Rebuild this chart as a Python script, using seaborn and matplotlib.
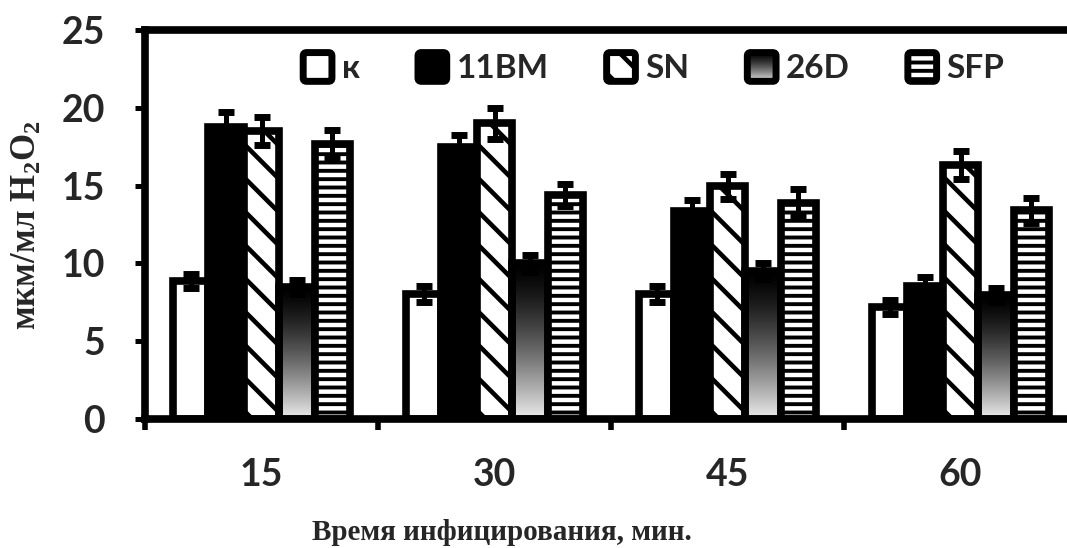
import numpy as np
import pandas as pd
import matplotlib
matplotlib.use("Agg")
import matplotlib.pyplot as plt
import seaborn as sns
from matplotlib.legend_handler import HandlerBase
from matplotlib.patches import FancyBboxPatch, Rectangle

# ---- data ----
times = ["15", "30", "45", "60"]
strains = ["к", "11BM", "SN", "26D", "SFP"]
k_vals = [8.9, 8.05, 8.05, 7.2]
bm11_vals = [18.75, 17.45, 13.35, 8.55]
sn_vals = [18.5, 19.0, 14.95, 16.35]
d26_vals = [8.5, 10.0, 9.5, 7.95]
sfp_vals = [17.65, 14.4, 13.9, 13.4]
k_err = [0.45, 0.5, 0.5, 0.45]
bm11_err = [1.0, 0.8, 0.7, 0.55]
sn_err = [0.9, 1.0, 0.8, 0.9]
d26_err = [0.45, 0.55, 0.5, 0.45]
sfp_err = [0.9, 0.7, 0.85, 0.8]

values = [k_vals, bm11_vals, sn_vals, d26_vals, sfp_vals]
errors = [k_err, bm11_err, sn_err, d26_err, sfp_err]

df = pd.DataFrame({
    "time": np.tile(times, len(strains)),
    "strain": np.repeat(strains, len(times)),
    "value": np.concatenate(values),
})

# ---- style ----
sns.set_theme(style="white")
plt.rcParams["font.family"] = ["Lato", "DejaVu Sans"]
plt.rcParams["font.weight"] = "bold"
plt.rcParams["mathtext.fontset"] = "custom"
plt.rcParams["mathtext.rm"] = "Liberation Serif"
plt.rcParams["mathtext.it"] = "Liberation Serif:italic"
plt.rcParams["mathtext.bf"] = "Liberation Serif:bold"
plt.rcParams["hatch.linewidth"] = 3.3
plt.rcParams["hatch.color"] = "black"

EDGE_LW = 5.5
DIAG_LW = 3.3
HORIZ_LW = 2.8
fig = plt.figure(figsize=(10.67, 5.48), dpi=100)
ax = fig.add_axes([145 / 1067, (548 - 419) / 548, 932 / 1067, 389 / 548])

faces = ["white", "black", "white", "none", "white"]
hatches = [None, None, "\\", None, "--"]
palette = dict(zip(strains, ["white", "black", "white", "white", "white"]))

sns.barplot(data=df, x="time", y="value", hue="strain", order=times,
            hue_order=strains, palette=palette, width=0.76, errorbar=None,
            edgecolor="black", linewidth=EDGE_LW, saturation=1,
            legend=False, ax=ax)


def set_hatch_lw(patch, lw):
    if hasattr(patch, "set_hatch_linewidth"):
        patch.set_hatch_linewidth(lw)
    elif hasattr(patch, "_hatch_linewidth"):
        patch._hatch_linewidth = lw


# vertical black-to-light gradient used for the 26D bars
grad_t = np.linspace(0, 1, 256).reshape(-1, 1)
grad = 0.93 * (1 - grad_t) ** 1.4

bar_containers = list(ax.containers)
for i, cont in enumerate(bar_containers):
    for p in cont.patches:
        p.set_facecolor(faces[i])
        p.set_edgecolor("black")
        if hatches[i]:
            p.set_hatch(hatches[i])
            set_hatch_lw(p, DIAG_LW if hatches[i] == "\\" else HORIZ_LW)
        if i == 3:
            x0, w, h = p.get_x(), p.get_width(), p.get_height()
            im = ax.imshow(grad, extent=(x0, x0 + w, 0, h), origin="lower",
                           cmap="gray", vmin=0, vmax=1, aspect="auto",
                           interpolation="bilinear", zorder=p.get_zorder() - 0.05)
            im.set_clip_path(p)
    xs = [p.get_x() + p.get_width() / 2 for p in cont.patches]
    ax.errorbar(xs, values[i], yerr=errors[i], fmt="none", ecolor="black",
                elinewidth=3.6, capsize=6, capthick=5, zorder=5)

ax.set_xlim(-0.5, 3.5)
ax.set_ylim(0, 25)
ax.set_yticks(range(0, 26, 5))
ax.set_xticks(range(len(times)))
ax.set_xticklabels(times)
ax.set_xticks([-0.5, 0.5, 1.5, 2.5, 3.5], minor=True)
ax.set_xlabel("")
ax.set_ylabel("")

for side in ["left", "bottom", "top"]:
    ax.spines[side].set_visible(True)
    ax.spines[side].set_linewidth(EDGE_LW)
    ax.spines[side].set_color("black")
ax.spines["right"].set_visible(False)

ax.tick_params(axis="y", which="major", direction="out", length=7, width=3.6,
               color="black", labelsize=27, pad=22, left=True)
ax.tick_params(axis="x", which="major", length=0, labelsize=27, pad=28)
ax.tick_params(axis="x", which="minor", direction="out", length=8, width=4,
               color="black", bottom=True)
for lab in ax.get_xticklabels() + ax.get_yticklabels():
    lab.set_fontweight("bold")

# axis titles
fig.text(0.026, 1 - 225 / 548, "мкм/мл $\\mathrm{H_2O_2}$", rotation=90,
         ha="center", va="center", fontsize=25, fontweight="bold",
         family=["Liberation Serif", "DejaVu Serif"])
fig.text(502 / 1067, 1 - 533 / 548, "Время инфицирования, мин.", ha="center",
         va="center", fontsize=21, fontweight="bold",
         family=["Liberation Serif", "DejaVu Serif"])


# ---- legend with rounded swatches ----
class RoundSwatch(HandlerBase):
    def __init__(self, face, hatch=None, hatch_lw=4.0, gradient=False):
        super().__init__()
        self.face, self.hatch, self.hatch_lw, self.gradient = face, hatch, hatch_lw, gradient

    def create_artists(self, legend, orig_handle, xdescent, ydescent,
                       width, height, fontsize, trans):
        s = min(width, height)
        x0 = -xdescent + (width - s) / 2
        y0 = -ydescent + (height - s) / 2
        r = s * 0.12
        arts = []
        if self.gradient:
            n = 30
            for k in range(n):
                t = (k + 0.5) / n
                g = 0.93 * (1 - t) ** 1.4
                arts.append(Rectangle((x0, y0 + s * k / n), s, s / n + 0.3,
                                      facecolor=str(g), edgecolor="none",
                                      transform=trans))
        box = FancyBboxPatch((x0 + r, y0 + r), s - 2 * r, s - 2 * r,
                             boxstyle=f"round,pad={r},rounding_size={r}",
                             facecolor=self.face if not self.gradient else "none",
                             edgecolor="black", linewidth=5, transform=trans)
        if self.hatch:
            box.set_hatch(self.hatch)
            set_hatch_lw(box, self.hatch_lw)
        arts.append(box)
        return arts


proxies = [Rectangle((0, 0), 1, 1) for _ in strains]
handlers = {
    proxies[0]: RoundSwatch("white"),
    proxies[1]: RoundSwatch("black"),
    proxies[2]: RoundSwatch("white", hatch="\\", hatch_lw=DIAG_LW),
    proxies[3]: RoundSwatch("none", gradient=True),
    proxies[4]: RoundSwatch("white", hatch="--", hatch_lw=HORIZ_LW),
}
leg = fig.legend(proxies, strains, handler_map=handlers, ncol=5, loc="center",
                 bbox_to_anchor=(0.612, 1 - 68 / 548), frameon=False,
                 prop={"family": ["Lato", "DejaVu Sans"], "weight": "bold", "size": 24},
                 handlelength=0.95, handleheight=0.95, handletextpad=0.25,
                 columnspacing=1.7, borderpad=0)

fig.savefig("out.png", dpi=100)
